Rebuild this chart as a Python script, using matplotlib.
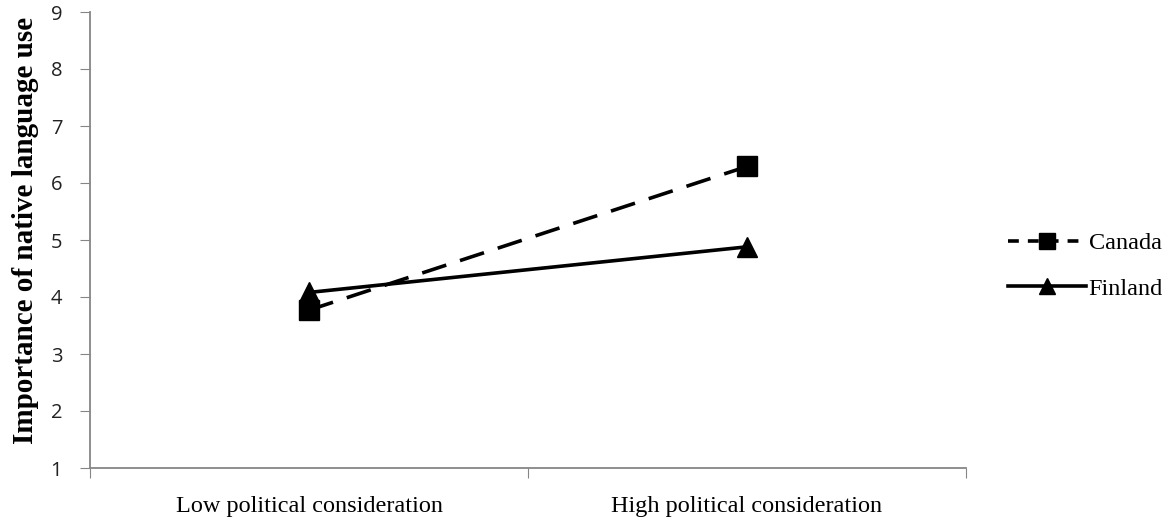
import matplotlib
matplotlib.use("Agg")
import matplotlib.pyplot as plt
from matplotlib.lines import Line2D

categories = ["Low political consideration", "High political consideration"]
canada = [3.77, 6.29]
finland = [4.08, 4.88]
yticks = [1, 2, 3, 4, 5, 6, 7, 8, 9]
series_names = ["Canada", "Finland"]

fig = plt.figure(figsize=(11.71, 5.25), dpi=100)
ax = fig.add_axes([90/1171, 1-468/525, (966-90)/1171, (468-12)/525])

x = list(range(len(categories)))
ax.plot(x, canada, color="black", lw=2.6, ls=(0, (7, 4)), marker="s", ms=14,
        label=series_names[0])
ax.plot(x, finland, color="black", lw=2.6, ls="-", marker="^", ms=14,
        label=series_names[1])

ax.set_xlim(-0.5, 1.5)
ax.set_ylim(1, 9)
ax.set_yticks(yticks)
ax.set_yticklabels([str(v) for v in yticks], fontfamily="Open Sans", fontsize=14.5, color="#222222")

ax.set_xticks([-0.5, 0.5, 1.5])
ax.set_xticklabels([])
ax.set_xticks(x, minor=True)
ax.set_xticklabels(categories, minor=True, fontfamily="Liberation Serif", fontsize=17.5)
ax.tick_params(axis="x", which="minor", length=0, pad=20)
ax.tick_params(axis="x", which="major", length=7, color="#868686", direction="out")
ax.tick_params(axis="y", length=7, color="#868686", direction="out", pad=13)

for s in ["top", "right"]:
    ax.spines[s].set_visible(False)
for s in ["left", "bottom"]:
    ax.spines[s].set_color("#868686")
    ax.spines[s].set_linewidth(1.3)

ax.set_ylabel("Importance of native language use", fontfamily="Liberation Serif",
              fontweight="bold", fontsize=21)
ax.yaxis.set_label_coords(-0.058, 0.52)

handles = [
    Line2D([], [], color="black", lw=2.6, ls=(0, (3, 2.5)), marker="s", ms=12),
    Line2D([], [], color="black", lw=2.6, ls="-", marker="^", ms=12),
]
leg = fig.legend(handles, series_names, loc="center left", bbox_to_anchor=(989/1171, 1-266/525),
                 frameon=False, prop={"family": "Liberation Serif", "size": 17.5},
                 handlelength=3.2, handletextpad=0.1, labelspacing=0.95, borderpad=0.3)

fig.savefig("out.png", dpi=100)
